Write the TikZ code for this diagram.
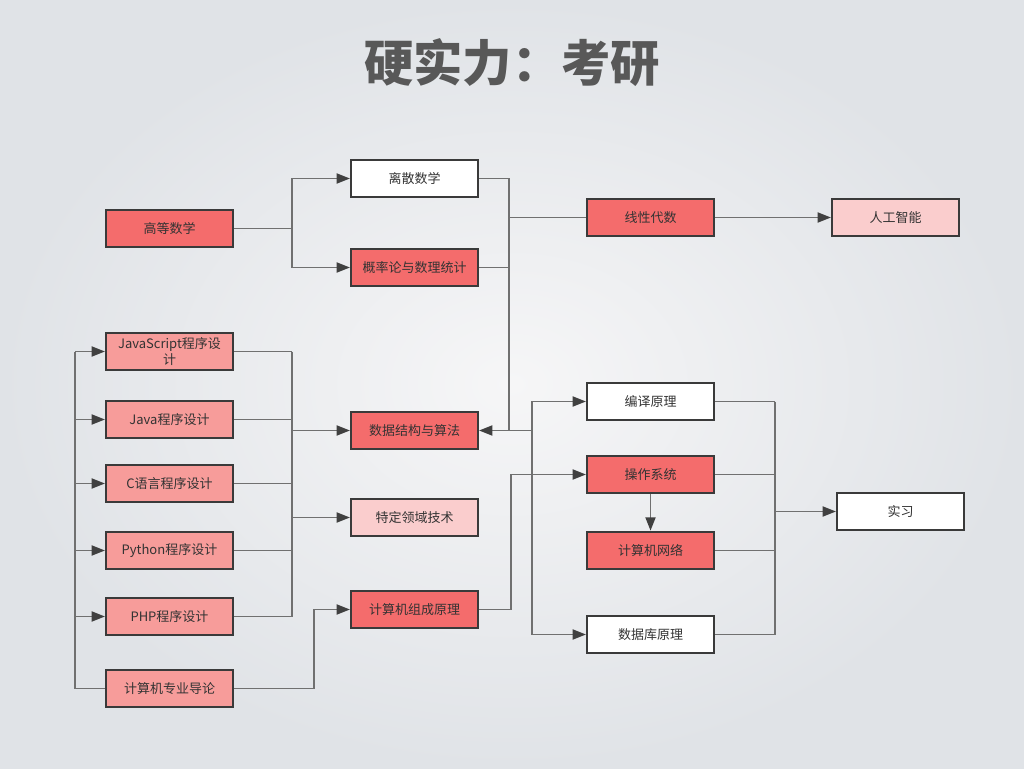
\documentclass[tikz,border=0pt]{standalone}
\usepackage{fontspec}
\newfontfamily\cjk{Noto Sans CJK SC}
\usetikzlibrary{arrows.meta, positioning, calc}

\definecolor{deepred}{RGB}{244,108,108}
\definecolor{midred}{RGB}{247,156,154}
\definecolor{palered}{RGB}{250,205,205}
\definecolor{edge}{RGB}{58,58,58}
\definecolor{wirec}{RGB}{112,112,112}
\definecolor{tipc}{RGB}{64,64,64}
\definecolor{ink}{RGB}{51,51,51}
\definecolor{titleink}{RGB}{88,88,88}
\definecolor{bgin}{RGB}{246,246,247}
\definecolor{bgout}{RGB}{224,227,231}

\begin{document}
\begin{tikzpicture}[
    x=0.75pt, y=-0.75pt,
    every node/.style={font=\cjk\fontsize{9.75}{11.5}\selectfont, text=ink},
    box/.style={draw=edge, line width=1.8pt, minimum width=95pt, minimum height=28pt, inner sep=2pt, fill=#1, align=center},
    wire/.style={draw=wirec, line width=1.4pt},
    arr/.style={wire, -{Triangle[length=10pt, width=7.5pt, color=tipc]}},
]
    % Background
    \shade[inner color=bgin, outer color=bgout] (0,0) rectangle (1024,768);
    \useasboundingbox (0,0) rectangle (1024,768);

    \node[font=\cjk\bfseries\fontsize{37}{42}\selectfont, text=titleink] (title) at (512,63) {硬实力：考研};

    % Math column
    \node[box=deepred] (gaoshu) at (169.5,228.5) {高等数学};
    \node[box=white] (lisan) at (414.5,178.5) {离散数学};
    \node[box=deepred] (gailv) at (414.5,267.5) {概率论与数理统计};
    \node[box=deepred] (xianxing) at (650.5,217.5) {线性代数};
    \node[box=palered] (ai) at (895.5,217.5) {人工智能};

    % Programming courses
    \node[box=midred] (js) at (169.5,351.5) {JavaScript程序设\\计};
    \node[box=midred] (java) at (169.5,419.5) {Java程序设计};
    \node[box=midred] (clang) at (169.5,483.5) {C语言程序设计};
    \node[box=midred] (python) at (169.5,550.5) {Python程序设计};
    \node[box=midred] (php) at (169.5,616.5) {PHP程序设计};
    \node[box=midred] (daolun) at (169.5,688.5) {计算机专业导论};

    % Core courses
    \node[box=deepred] (shuju) at (414.5,430.5) {数据结构与算法};
    \node[box=palered] (teding) at (414.5,517.5) {特定领域技术};
    \node[box=deepred] (zucheng) at (414.5,609.5) {计算机组成原理};
    \node[box=white] (bianyi) at (650.5,401.5) {编译原理};
    \node[box=deepred] (caozuo) at (650.5,474.5) {操作系统};
    \node[box=deepred] (wangluo) at (650.5,550.5) {计算机网络};
    \node[box=white] (shujuku) at (650.5,634.5) {数据库原理};
    \node[box=white] (shixi) at (900.5,511.5) {实习};

    % Buses
    \coordinate (lbus) at (75,500);
    \coordinate (pbus) at (292,500);
    \coordinate (mbus) at (509,300);
    \coordinate (sbus) at (532,500);
    \coordinate (rbus) at (775,500);

    % Math links
    \draw[arr] (gaoshu.east) -- ++(58,0) coordinate (fork) |- (lisan.west);
    \draw[arr] (fork) |- (gailv.west);
    \draw[wire] (lisan.east) -| (mbus |- shuju.east);
    \draw[wire] (gailv.east) -- (gailv.east -| mbus);
    \draw[wire] (mbus |- xianxing.west) -- (xianxing.west);
    \draw[arr] (xianxing.east) -- (ai.west);

    % Programming links
    \draw[wire] (daolun.west) -| (lbus |- js.west);
    \foreach \n in {js, java, clang, python, php} {
        \draw[arr] (lbus |- \n.west) -- (\n.west);
        \draw[wire] (\n.east) -- (\n.east -| pbus);
    }
    \draw[wire] (js.east -| pbus) -- (php.east -| pbus);
    \draw[arr] (pbus |- shuju.west) -- (shuju.west);
    \draw[arr] (pbus |- teding.west) -- (teding.west);
    \draw[arr] (daolun.east) -- ++(80,0) |- (zucheng.west);

    % Systems links
    \draw[arr] (sbus |- shuju.east) -- (shuju.east);
    \draw[arr] (sbus |- shuju.east) |- (bianyi.west);
    \draw[arr] (sbus |- shuju.east) |- (shujuku.west);
    \draw[arr] (zucheng.east) -- ++(32,0) |- (caozuo.west);
    \draw[arr] (caozuo) -- (wangluo);
    \foreach \n in {bianyi, caozuo, wangluo, shujuku}
        \draw[wire] (\n.east) -- (\n.east -| rbus);
    \draw[wire] (bianyi.east -| rbus) -- (shujuku.east -| rbus);
    \draw[arr] (rbus |- shixi.west) -- (shixi.west);
\end{tikzpicture}
\end{document}
